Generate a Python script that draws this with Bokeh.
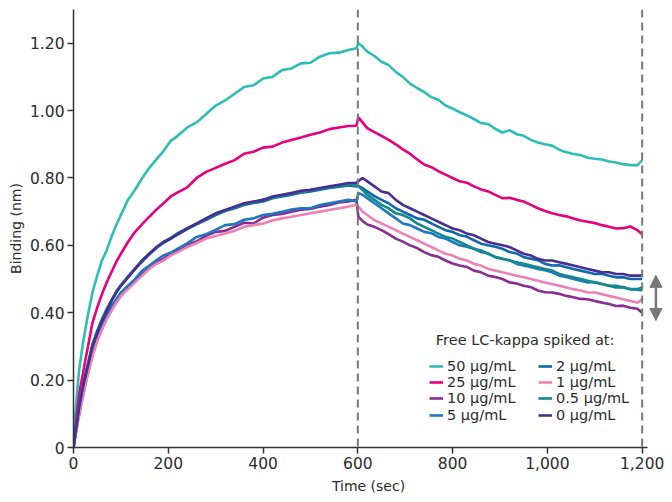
from bokeh.plotting import figure
from bokeh.models import (Range1d, FixedTicker, Span, Arrow, NormalHead, Label,
                          Legend, LegendItem)
from bokeh.embed import file_html
from bokeh.resources import INLINE

# ---------------- data ----------------
t_assoc = [0, 4, 8, 12, 16, 20, 25, 30, 40, 50, 60, 70, 80, 90, 100, 115, 130, 145, 160, 175,
           190, 205, 220, 240, 260, 280, 300, 320, 340, 360, 380, 400, 420, 440, 460, 480,
           500, 520, 540, 560, 580, 597]
t_dissoc = [601, 610, 620, 635, 650, 665, 680, 695, 710, 725, 740, 755, 770, 785, 800, 815,
            830, 845, 860, 875, 890, 905, 920, 935, 950, 965, 980, 995, 1010, 1025, 1040,
            1055, 1070, 1085, 1100, 1115, 1130, 1145, 1160, 1175, 1190, 1200]
time = t_assoc + t_dissoc

conc_50 = [0, 0.10, 0.17, 0.23, 0.27, 0.31, 0.35, 0.39, 0.46, 0.51, 0.555, 0.585, 0.625, 0.66,
           0.69, 0.735, 0.765, 0.80, 0.83, 0.855, 0.88, 0.91, 0.925, 0.95, 0.965, 0.99, 1.015,
           1.03, 1.05, 1.07, 1.075, 1.095, 1.10, 1.12, 1.125, 1.14, 1.142, 1.16, 1.17, 1.172,
           1.18, 1.185,
           1.20, 1.19, 1.175, 1.162, 1.145, 1.135, 1.115, 1.10, 1.08, 1.067, 1.055, 1.04, 1.032,
           1.015, 1.006, 0.995, 0.986, 0.975, 0.963, 0.96, 0.946, 0.935, 0.942, 0.93, 0.925,
           0.913, 0.905, 0.90, 0.896, 0.884, 0.876, 0.871, 0.868, 0.86, 0.857, 0.855, 0.849,
           0.846, 0.841, 0.838, 0.838, 0.852]

conc_25 = [0, 0.06, 0.11, 0.16, 0.19, 0.22, 0.26, 0.295, 0.37, 0.415, 0.455, 0.49, 0.52, 0.55,
           0.575, 0.61, 0.64, 0.663, 0.685, 0.706, 0.725, 0.745, 0.757, 0.772, 0.80, 0.818, 0.83,
           0.842, 0.853, 0.872, 0.878, 0.89, 0.893, 0.905, 0.913, 0.92, 0.928, 0.935, 0.945,
           0.95, 0.954, 0.955,
           0.98, 0.965, 0.948, 0.936, 0.925, 0.913, 0.90, 0.885, 0.872, 0.855, 0.84, 0.832, 0.82,
           0.81, 0.80, 0.79, 0.786, 0.775, 0.766, 0.76, 0.75, 0.74, 0.741, 0.735, 0.73, 0.72,
           0.71, 0.702, 0.695, 0.69, 0.686, 0.68, 0.674, 0.67, 0.666, 0.66, 0.655, 0.65, 0.651,
           0.656, 0.645, 0.633]

conc_10 = [0, 0.035, 0.07, 0.10, 0.13, 0.155, 0.19, 0.22, 0.275, 0.32, 0.355, 0.385, 0.41,
           0.43, 0.45, 0.475, 0.495, 0.515, 0.533, 0.55, 0.56, 0.575, 0.585, 0.60, 0.612, 0.628,
           0.64, 0.643, 0.655, 0.667, 0.665, 0.682, 0.69, 0.693, 0.70, 0.706, 0.708, 0.715,
           0.72, 0.727, 0.73, 0.735,
           0.685, 0.672, 0.662, 0.655, 0.645, 0.633, 0.62, 0.611, 0.60, 0.592, 0.58, 0.571, 0.566,
           0.555, 0.546, 0.54, 0.536, 0.525, 0.52, 0.51, 0.506, 0.50, 0.49, 0.487, 0.48, 0.476,
           0.466, 0.461, 0.46, 0.456, 0.45, 0.446, 0.441, 0.44, 0.435, 0.43, 0.426, 0.42, 0.421,
           0.415, 0.412, 0.40]

conc_5 = [0, 0.04, 0.08, 0.115, 0.145, 0.17, 0.20, 0.23, 0.285, 0.33, 0.365, 0.395, 0.42,
          0.44, 0.46, 0.48, 0.50, 0.525, 0.54, 0.556, 0.57, 0.578, 0.59, 0.606, 0.625, 0.633,
          0.646, 0.66, 0.663, 0.676, 0.68, 0.69, 0.694, 0.70, 0.706, 0.71, 0.71, 0.72, 0.725,
          0.73, 0.735, 0.73,
          0.755, 0.75, 0.74, 0.725, 0.71, 0.695, 0.68, 0.665, 0.66, 0.65, 0.64, 0.636, 0.625,
          0.62, 0.61, 0.60, 0.596, 0.59, 0.58, 0.576, 0.565, 0.56, 0.556, 0.545, 0.54, 0.536,
          0.53, 0.526, 0.52, 0.51, 0.506, 0.50, 0.495, 0.49, 0.491, 0.485, 0.48, 0.475, 0.476,
          0.47, 0.47, 0.475]

conc_2 = [0, 0.045, 0.085, 0.12, 0.155, 0.18, 0.215, 0.245, 0.305, 0.345, 0.38, 0.41, 0.435,
          0.46, 0.48, 0.505, 0.53, 0.552, 0.573, 0.592, 0.607, 0.62, 0.632, 0.648, 0.662, 0.676,
          0.69, 0.702, 0.71, 0.72, 0.726, 0.73, 0.74, 0.745, 0.75, 0.756, 0.76, 0.765, 0.77,
          0.774, 0.778, 0.775,
          0.776, 0.77, 0.76, 0.746, 0.735, 0.725, 0.71, 0.70, 0.69, 0.68, 0.676, 0.665, 0.655,
          0.645, 0.64, 0.63, 0.626, 0.615, 0.605, 0.60, 0.596, 0.59, 0.58, 0.576, 0.565, 0.56,
          0.556, 0.545, 0.54, 0.541, 0.535, 0.53, 0.525, 0.52, 0.515, 0.516, 0.51, 0.505, 0.505,
          0.50, 0.50, 0.50]

conc_1 = [0, 0.035, 0.065, 0.095, 0.125, 0.15, 0.185, 0.215, 0.27, 0.315, 0.35, 0.38, 0.405,
          0.43, 0.45, 0.47, 0.49, 0.51, 0.53, 0.545, 0.555, 0.57, 0.58, 0.595, 0.607, 0.62,
          0.628, 0.635, 0.643, 0.655, 0.66, 0.665, 0.674, 0.68, 0.685, 0.69, 0.695, 0.70,
          0.705, 0.71, 0.715, 0.72,
          0.715, 0.70, 0.69, 0.675, 0.665, 0.655, 0.645, 0.635, 0.625, 0.615, 0.605, 0.595,
          0.585, 0.575, 0.57, 0.56, 0.555, 0.545, 0.54, 0.53, 0.525, 0.52, 0.515, 0.51, 0.505,
          0.50, 0.495, 0.49, 0.485, 0.48, 0.475, 0.47, 0.466, 0.46, 0.46, 0.455, 0.45, 0.445,
          0.44, 0.435, 0.43, 0.44]

conc_05 = [0, 0.045, 0.085, 0.125, 0.155, 0.185, 0.215, 0.245, 0.305, 0.345, 0.38, 0.41,
           0.437, 0.462, 0.482, 0.508, 0.532, 0.556, 0.576, 0.593, 0.61, 0.622, 0.636, 0.65,
           0.664, 0.68, 0.693, 0.703, 0.714, 0.722, 0.728, 0.736, 0.742, 0.748, 0.755, 0.758,
           0.764, 0.768, 0.772, 0.778, 0.78, 0.778,
           0.775, 0.765, 0.75, 0.735, 0.72, 0.71, 0.695, 0.69, 0.68, 0.665, 0.655, 0.645, 0.635,
           0.625, 0.62, 0.61, 0.60, 0.59, 0.585, 0.575, 0.565, 0.56, 0.555, 0.55, 0.545, 0.54,
           0.535, 0.53, 0.525, 0.515, 0.51, 0.505, 0.50, 0.495, 0.49, 0.485, 0.48, 0.48, 0.475,
           0.47, 0.468, 0.466]

conc_0 = [0, 0.04, 0.08, 0.12, 0.15, 0.18, 0.21, 0.24, 0.30, 0.34, 0.375, 0.405, 0.435, 0.46,
          0.48, 0.505, 0.53, 0.555, 0.575, 0.595, 0.61, 0.62, 0.635, 0.65, 0.665, 0.68, 0.695,
          0.705, 0.715, 0.725, 0.73, 0.735, 0.745, 0.75, 0.755, 0.762, 0.765, 0.77, 0.775,
          0.78, 0.785, 0.786,
          0.79, 0.80, 0.79, 0.775, 0.76, 0.755, 0.735, 0.72, 0.71, 0.70, 0.69, 0.68, 0.67,
          0.66, 0.65, 0.645, 0.635, 0.63, 0.62, 0.61, 0.605, 0.60, 0.595, 0.585, 0.575, 0.57,
          0.56, 0.555, 0.555, 0.55, 0.545, 0.54, 0.535, 0.53, 0.525, 0.52, 0.52, 0.515, 0.515,
          0.51, 0.51, 0.51]

series_labels = ["50 µg/mL", "25 µg/mL", "10 µg/mL", "5 µg/mL",
                 "2 µg/mL", "1 µg/mL", "0.5 µg/mL", "0 µg/mL"]
series_values = [conc_50, conc_25, conc_10, conc_5, conc_2, conc_1, conc_05, conc_0]
series_colors = ["#2DBDB7", "#E6007E", "#8B2C91", "#1C78C0",
                 "#0E68AE", "#EF80B6", "#12898D", "#4A2D90"]

y_ticks = [0, 0.2, 0.4, 0.6, 0.8, 1.0, 1.2]
y_tick_labels = ["0", "0.20", "0.40", "0.60", "0.80", "1.00", "1.20"]
x_ticks = [0, 200, 400, 600, 800, 1000, 1200]
x_tick_labels = ["0", "200", "400", "600", "800", "1,000", "1,200"]
phase_marks = [600, 1200]
legend_title = "Free LC-kappa spiked at:"

FONT = "DejaVu Sans"
TXT = "#2b2b2b"
GRAY = "#777777"

p = figure(width=670, height=500, output_backend="svg", toolbar_location=None,
           x_range=Range1d(0, 1245), y_range=Range1d(0, 1.30),
           min_border_left=73, min_border_right=7, min_border_top=9, min_border_bottom=53)
p.outline_line_color = None
p.grid.visible = False
p.background_fill_color = "white"

for ax in (p.xaxis[0], p.yaxis[0]):
    ax.axis_line_color = "#333333"
    ax.axis_line_width = 1.5
    ax.major_tick_line_color = "#333333"
    ax.major_tick_line_width = 1.5
    ax.major_tick_in = 0
    ax.major_tick_out = 6
    ax.minor_tick_line_color = None
    ax.major_label_text_font = FONT
    ax.major_label_text_font_size = "15.5px"
    ax.major_label_text_color = TXT
    ax.axis_label_text_font = FONT
    ax.axis_label_text_font_size = "14px"
    ax.axis_label_text_font_style = "normal"
    ax.axis_label_text_color = TXT

p.xaxis.bounds = (0, 1212)
p.xaxis.ticker = FixedTicker(ticks=x_ticks)
p.xaxis.major_label_overrides = {t: l for t, l in zip(x_ticks, x_tick_labels)}
p.yaxis.ticker = FixedTicker(ticks=y_ticks)
p.yaxis.major_label_overrides = {t: l for t, l in zip(y_ticks, y_tick_labels)}
p.xaxis.axis_label = "Time (sec)"
p.yaxis.axis_label = "Binding (nm)"
p.xaxis.major_label_standoff = 3
p.yaxis.major_label_standoff = 3
p.xaxis.axis_label_standoff = 6
p.yaxis.axis_label_standoff = 3

for xm in phase_marks:
    p.add_layout(Span(location=xm, dimension="height", line_color=GRAY,
                      line_width=2, line_dash="8 5"))

renderers = []
for vals, col in zip(series_values, series_colors):
    renderers.append(p.line(time, vals, line_color=col, line_width=2.6))

# legend: one horizontal legend per row, two columns
row_bottoms = [73, 57, 41, 24]
for r in range(4):
    items = [LegendItem(label=series_labels[r], renderers=[renderers[r]]),
             LegendItem(label=series_labels[r + 4], renderers=[renderers[r + 4]])]
    lg = Legend(items=items, location=(356, row_bottoms[r]), orientation="horizontal",
                padding=0, margin=0, spacing=0,
                glyph_width=14, glyph_height=14, label_height=14, label_width=91,
                label_standoff=4,
                label_text_font=FONT, label_text_font_size="14.5px", label_text_color=TXT,
                background_fill_alpha=0, border_line_color=None)
    p.add_layout(lg)

p.add_layout(Label(x=953, y=0.318, text=legend_title, text_align="center",
                   text_baseline="middle", text_font=FONT, text_font_size="14.5px",
                   text_color=TXT))

p.add_layout(Arrow(x_start=1229, y_start=0.377, x_end=1229, y_end=0.511,
                   line_color=GRAY, line_width=2.5,
                   start=NormalHead(size=12, fill_color=GRAY, line_color=GRAY),
                   end=NormalHead(size=12, fill_color=GRAY, line_color=GRAY)))

open("out.html", "w").write(file_html(p, INLINE))
